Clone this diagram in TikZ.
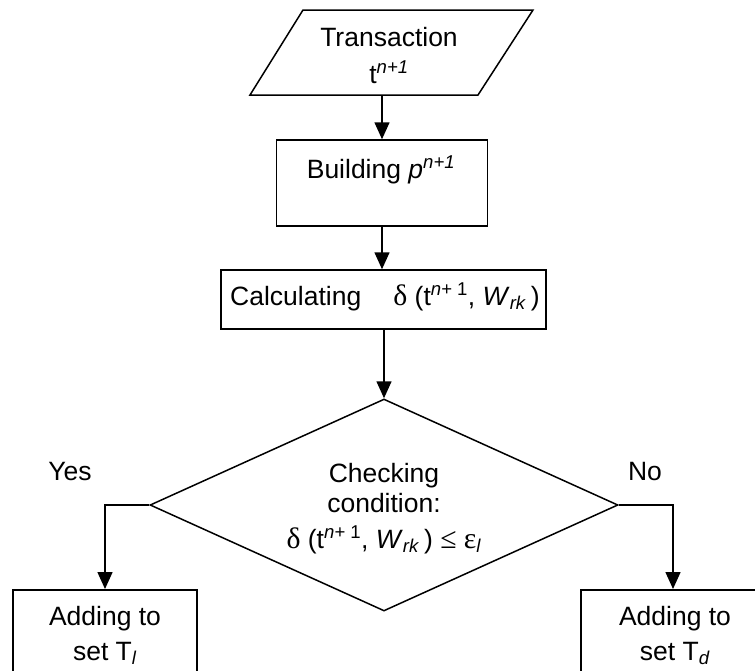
\documentclass[tikz,border=0pt]{standalone}
\usepackage{fontspec}
\setmainfont{Liberation Sans}
\newfontfamily\serifgr[Scale=1.12]{Liberation Serif}
\usetikzlibrary{shapes.geometric,arrows.meta}
\newcommand\mydl{{\serifgr δ}}
\newcommand\myeps{{\serifgr ε}}
\newcommand\myle{{\serifgr ≤}}
\begin{document}
\begin{tikzpicture}[x=1pt,y=-1pt,line width=1.5pt,
  font=\fontsize{26.5}{31}\selectfont,
  box/.style={draw,rectangle,inner sep=0pt},
  txt/.style={anchor=base,inner sep=0pt},
  arr/.style={-{Triangle[width=15pt,length=17pt]}}]
\useasboundingbox (0,0) rectangle (755,670);
\clip (0,0) rectangle (755,670);
% input parallelogram
\draw (303,10) -- (533,10) -- (478,95) -- (250,95) -- cycle;
\node[inner sep=0pt,minimum height=85pt,minimum width=10pt] (trans) at (391,52.5) {};
\node[txt] (transA) at (389,46) {Transaction};
\node[txt] (transB) at (389,83) {t\textsuperscript{\textit{n+1}}};
% building
\node[box,minimum width=211pt,minimum height=86pt] (build) at (382,183) {};
\node[txt] (buildtxt) at (381,178) {Building \textit{p}\textsuperscript{\textit{n+1}}};
% calculating
\node[box,minimum width=325pt,minimum height=59pt] (calc) at (383.5,299.5) {};
\node[txt] (calctxt) at (385,305) {Calculating\hspace{32pt}\mydl\ (t\textsuperscript{\textit{n+} 1}, \textit{W}\textsubscript{\textit{rk}}\,)};
% decision
\node[draw,diamond,minimum width=468pt,minimum height=212pt,inner sep=0pt] (dia) at (384,505) {};
\node[txt] (diaA) at (384,482) {Checking};
\node[txt] (diaB) at (384,512) {condition:};
\node[txt] (diaC) at (384,548) {\mydl\ (t\textsuperscript{\textit{n+} 1}, \textit{W}\textsubscript{\textit{rk}}\,) \myle\ \myeps\textsubscript{\textit{l}}};
% labels
\node[txt] (yes) at (70,480) {Yes};
\node[txt] (no) at (645,480) {No};
% result boxes
\node[box,minimum width=184pt,minimum height=100pt,anchor=north] (lbox) at (105,589) {};
\node[txt] (lboxA) at (105,625) {Adding to};
\node[txt] (lboxB) at (105,660) {set T\textsubscript{\textit{l}}};
\node[box,minimum width=184pt,minimum height=100pt,anchor=north] (rbox) at (673,589) {};
\node[txt] (rboxA) at (675,625) {Adding to};
\node[txt] (rboxB) at (675,660) {set T\textsubscript{\textit{d}}};
% connectors
\draw[arr] (trans.south -| build.north) -- (build.north);
\draw[arr] (build.south) -- (build.south |- calc.north);
\draw[arr] (calc.south -| dia.north) -- (dia.north);
\draw[arr] (dia.west) -| (lbox.north);
\draw[arr] (dia.east) -| (rbox.north);
\end{tikzpicture}
\end{document}
